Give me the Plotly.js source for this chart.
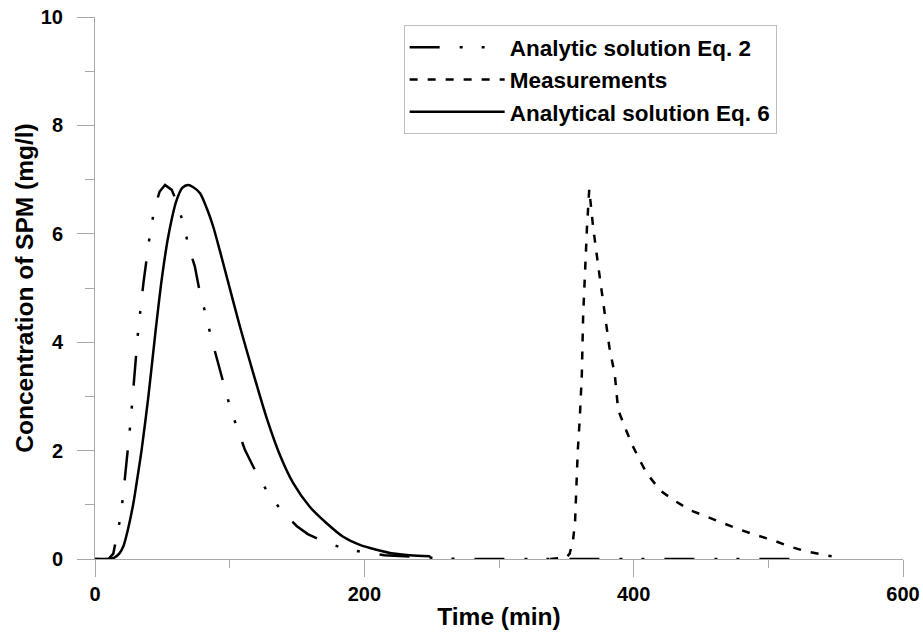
<!DOCTYPE html>
<html>
<head>
<meta charset="utf-8">
<script src="https://cdn.plot.ly/plotly-3.0.1.min.js"></script>
<style>
  html, body { margin: 0; padding: 0; background: #ffffff; }
  #chart { width: 923px; height: 641px; }
</style>
</head>
<body>
<div id="chart"></div>
<script>
// Analytic solution, Eq. 2 (time in min, SPM in mg/l)
const eq2Time = [0, 10, 13.6, 16, 19, 21, 23.5, 26.5, 29.5, 32, 36, 38.4, 40.3, 44, 48, 52, 57, 60.6, 65.6, 69.3, 74.2, 78, 82.4, 86.1, 90.3, 95.8, 100.2, 105.6, 111.4, 120, 128.7, 138.6, 149.7, 158, 168.2, 183.8, 200, 215, 237, 253, 270, 520];
const eq2Conc = [0, 0, 0.1, 0.38, 0.78, 1.2, 1.8, 2.55, 3.45, 4.2, 5.1, 5.55, 5.9, 6.45, 6.78, 6.9, 6.81, 6.59, 6.19, 5.79, 5.39, 4.9, 4.5, 4.1, 3.7, 3.19, 2.81, 2.41, 2.01, 1.58, 1.21, 0.89, 0.61, 0.46, 0.34, 0.2, 0.12, 0.07, 0.04, 0.02, 0, 0];

// Measured SPM concentration
const measTime = [338, 350, 352.5, 355, 356.5, 358.5, 360, 361.5, 362.5, 364, 365.3, 367, 370, 374, 378, 382, 386, 388.5, 394, 399, 405, 410, 420, 430, 442, 454, 466, 479, 491, 503, 516, 528, 547];
const measConc = [0, 0.03, 0.1, 0.35, 0.7, 2.0, 2.6, 3.4, 4.5, 5.4, 6.1, 6.82, 6.1, 5.35, 4.6, 3.9, 3.4, 2.75, 2.4, 2.1, 1.8, 1.57, 1.26, 1.08, 0.9, 0.78, 0.66, 0.54, 0.44, 0.35, 0.23, 0.14, 0.05];

// Analytical solution, Eq. 6
const eq6Time = [0, 10, 14, 18, 21, 24.5, 28.5, 31.5, 34.6, 39.6, 44.5, 49.5, 54.4, 60.6, 65, 69, 73, 78, 83, 87.8, 92.8, 97.8, 107.6, 117.5, 127.5, 137.3, 147.2, 159.6, 172, 184.3, 196.7, 209, 221.5, 233.8, 249];
const eq6Conc = [0, 0, 0.02, 0.1, 0.23, 0.55, 1.03, 1.5, 2.01, 2.99, 4.1, 5.15, 5.95, 6.62, 6.85, 6.9, 6.86, 6.75, 6.47, 6.13, 5.68, 5.21, 4.29, 3.43, 2.6, 1.92, 1.4, 0.96, 0.66, 0.41, 0.26, 0.17, 0.1, 0.07, 0.05];

const seriesNames = ['Analytic solution Eq. 2', 'Measurements', 'Analytical solution Eq. 6'];

const xTitle = 'Time (min)';
const yTitle = 'Concentration of SPM (mg/l)';

const FONT = 'Liberation Sans, Arial, sans-serif';
const AXIS_GREY = '#a8a8a8';

const traces = [
  {
    x: eq2Time, y: eq2Conc, name: seriesNames[0], legendgroup: 'a',
    type: 'scatter', mode: 'lines',
    line: { color: '#000000', width: 2.5, dash: '30px,20px,3px,19px,3px,20px' }
  },
  {
    x: measTime, y: measConc, name: seriesNames[1], legendgroup: 'b',
    type: 'scatter', mode: 'lines',
    line: { color: '#000000', width: 2.5, dash: '8px,10px' }
  },
  {
    x: eq6Time, y: eq6Conc, name: seriesNames[2], legendgroup: 'c',
    type: 'scatter', mode: 'lines',
    line: { color: '#000000', width: 2.5, shape: 'spline', smoothing: 0.8 }
  }
];

const layout = {
  width: 923,
  height: 641,
  margin: { l: 95, r: 20, t: 17, b: 82 },
  paper_bgcolor: '#ffffff',
  plot_bgcolor: '#ffffff',
  font: { family: FONT, color: '#000000' },
  showlegend: true,
  legend: {
    x: 0.382, y: 0.985, xanchor: 'left', yanchor: 'top',
    bgcolor: '#ffffff',
    bordercolor: '#bdbdbd', borderwidth: 1,
    font: { family: FONT, size: 22.5, weight: 'bold', color: '#000000' },
    itemwidth: 95,
    traceorder: 'grouped',
    tracegroupgap: 0
  },
  xaxis: {
    range: [0, 600],
    tickmode: 'linear', tick0: 0, dtick: 200,
    ticks: 'outside', ticklen: 17, tickwidth: 1, tickcolor: AXIS_GREY,
    minor: { tickmode: 'linear', tick0: 0, dtick: 100, ticks: 'outside', ticklen: 8, tickcolor: AXIS_GREY, tickwidth: 1, showgrid: false },
    showline: true, linecolor: AXIS_GREY, linewidth: 1,
    showgrid: false, zeroline: false,
    tickfont: { family: FONT, size: 20, weight: 'bold', color: '#000000' },
    title: { text: xTitle, font: { family: FONT, size: 24.5, weight: 'bold', color: '#000000' }, standoff: 3 }
  },
  yaxis: {
    range: [0, 10],
    tickmode: 'linear', tick0: 0, dtick: 2,
    ticks: 'outside', ticklen: 17, tickwidth: 1, tickcolor: AXIS_GREY,
    minor: { tickmode: 'linear', tick0: 0, dtick: 1, ticks: 'outside', ticklen: 9, tickcolor: AXIS_GREY, tickwidth: 1, showgrid: false },
    showline: true, linecolor: AXIS_GREY, linewidth: 1,
    showgrid: false, zeroline: false,
    ticklabelstandoff: 10,
    tickfont: { family: FONT, size: 20, weight: 'bold', color: '#000000' },
    title: { text: yTitle, font: { family: FONT, size: 24.5, weight: 'bold', color: '#000000' }, standoff: 0 }
  }
};

Plotly.newPlot('chart', traces, layout, { staticPlot: true, displayModeBar: false });
</script>
</body>
</html>
